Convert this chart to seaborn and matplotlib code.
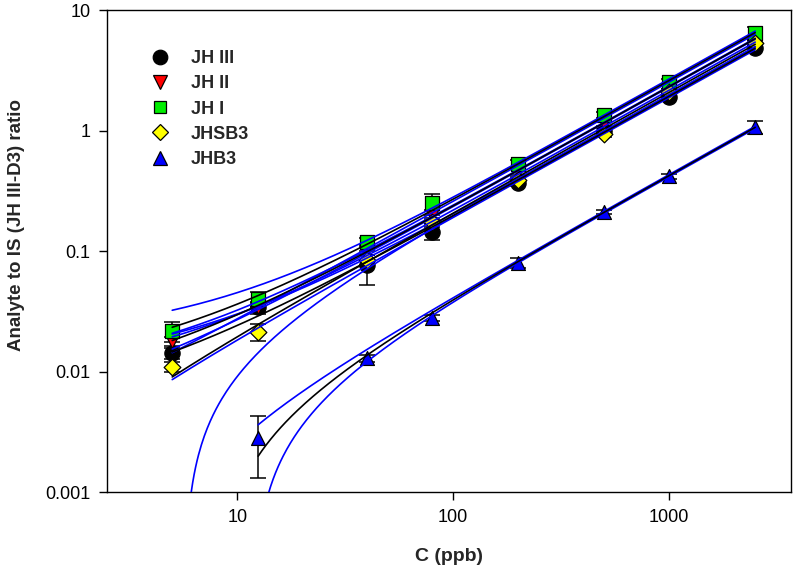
import numpy as np
import pandas as pd
import matplotlib
matplotlib.use("Agg")
import matplotlib.pyplot as plt
import seaborn as sns
from matplotlib.lines import Line2D

sns.set_theme(style="ticks")
plt.rcParams['font.family'] = ['Liberation Sans', 'DejaVu Sans']

# ---------------- data ----------------
conc = [5, 12.5, 40, 80, 200, 500, 1000, 2500]
conc_jhb3 = [12.5, 40, 80, 200, 500, 1000, 2500]

jh3 = [0.0143, 0.034, 0.0766, 0.145, 0.366, 1.0, 1.90, 4.84]
jh2 = [0.0179, 0.0343, 0.102, 0.20, 0.46, 1.15, 2.3, 5.8]
jh1 = [0.0217, 0.040, 0.119, 0.25, 0.53, 1.35, 2.52, 6.5]
jhsb3 = [0.0109, 0.0213, 0.084, 0.174, 0.388, 0.93, 2.09, 5.3]
jhb3 = [0.0028, 0.0129, 0.0278, 0.080, 0.211, 0.419, 1.07]

jh3_err = [0.0015, 0.004, 0.024, 0.022, 0.02, 0.05, 0.1, 0.25]
jh2_err = [0.0015, 0.003, 0.01, 0.02, 0.03, 0.06, 0.1, 0.3]
jh1_err = [0.004, 0.006, 0.01, 0.05, 0.04, 0.08, 0.15, 0.7]
jhsb3_err = [0.001, 0.0035, 0.008, 0.015, 0.02, 0.05, 0.1, 0.3]
jhb3_err = [0.0015, 0.0008, 0.0015, 0.008, 0.01, 0.02, 0.13]

names = ["JH III", "JH II", "JH I", "JHSB3", "JHB3"]
# ---------------------------------------

series = [
    (names[0], conc, jh3, jh3_err, "o", "black"),
    (names[1], conc, jh2, jh2_err, "v", "red"),
    (names[2], conc, jh1, jh1_err, "s", "#00ee00"),
    (names[3], conc, jhsb3, jhsb3_err, "D", "yellow"),
    (names[4], conc_jhb3, jhb3, jhb3_err, "^", "blue"),
]

fig = plt.figure(figsize=(8, 5.76), dpi=100)
ax = fig.add_axes([0.134, 0.1458, 0.855, 0.8368])
ax.set_xscale("log")
ax.set_yscale("log")

msize = {"o": 11, "v": 10, "s": 9.5, "D": 8.5, "^": 10}

for name, x, y, e, m, c in series:
    x = np.asarray(x, float)
    y = np.asarray(y, float)
    ax.errorbar(x, y, yerr=e, fmt="none", ecolor="black", elinewidth=1.1,
                capsize=6, capthick=1.1, zorder=2)
    df = pd.DataFrame({"x": x, "y": y})
    sns.scatterplot(data=df, x="x", y="y", marker=m, color=c, s=msize[m] ** 2,
                    edgecolor="black", linewidth=0.9, ax=ax, zorder=3, legend=False)

# weighted (1/x) linear regression + 95% confidence bands
for name, x, y, e, m, c in series:
    x = np.asarray(x, float)
    y = np.asarray(y, float)
    n = len(x)
    w = 1.0 / x
    X = np.column_stack([np.ones(n), x])
    XtW = X.T * w
    cov = np.linalg.inv(XtW @ X)
    beta = cov @ (XtW @ y)
    resid = y - X @ beta
    s2 = np.sum(w * resid ** 2) / (n - 2)
    tval = {5: 2.571, 6: 2.447}[n - 2]
    xg = np.geomspace(x.min(), x.max(), 400)
    G = np.column_stack([np.ones_like(xg), xg])
    yg = G @ beta
    half = tval * np.sqrt(s2 * np.einsum("ij,jk,ik->i", G, cov, G))
    up = yg + half
    lo = yg - half
    yg = np.where(yg > 0, yg, np.nan)
    lo = np.where(lo > 0, lo, np.nan)
    sns.lineplot(x=xg, y=up, color="blue", lw=1.2, ax=ax, zorder=4, sort=False)
    sns.lineplot(x=xg, y=lo, color="blue", lw=1.2, ax=ax, zorder=4, sort=False)
    sns.lineplot(x=xg, y=yg, color="black", lw=1.2, ax=ax, zorder=5, sort=False)

ax.set_xlim(2.5, 3670)
ax.set_ylim(0.001, 10)

ax.set_xticks([10, 100, 1000])
ax.set_xticklabels(["10", "100", "1000"])
ax.set_yticks([0.001, 0.01, 0.1, 1, 10])
ax.set_yticklabels(["0.001", "0.01", "0.1", "1", "10"])
ax.minorticks_off()
ax.tick_params(axis="both", direction="out", length=6, width=1, labelsize=13,
               colors="black", pad=6)
for sp in ax.spines.values():
    sp.set_visible(True)
    sp.set_color("black")
    sp.set_linewidth(1.0)

ax.set_xlabel("C (ppb)", fontsize=14, fontweight="bold", labelpad=16)
ax.set_ylabel("Analyte to IS (JH III-D3) ratio", fontsize=13.5, fontweight="bold")
ax.yaxis.set_label_coords(-0.12, 0.554)

handles = [Line2D([], [], linestyle="none", marker=m, markersize=msize[m] * 0.95,
                  markerfacecolor=c, markeredgecolor="black", markeredgewidth=0.9)
           for name, x, y, e, m, c in series]
ax.legend(handles, names, loc="upper left", bbox_to_anchor=(0.04, 0.95), frameon=False,
          prop={"weight": "bold", "size": 13}, handletextpad=1.2, labelspacing=0.45,
          handlelength=1.0)

fig.savefig("out.png", dpi=100)
